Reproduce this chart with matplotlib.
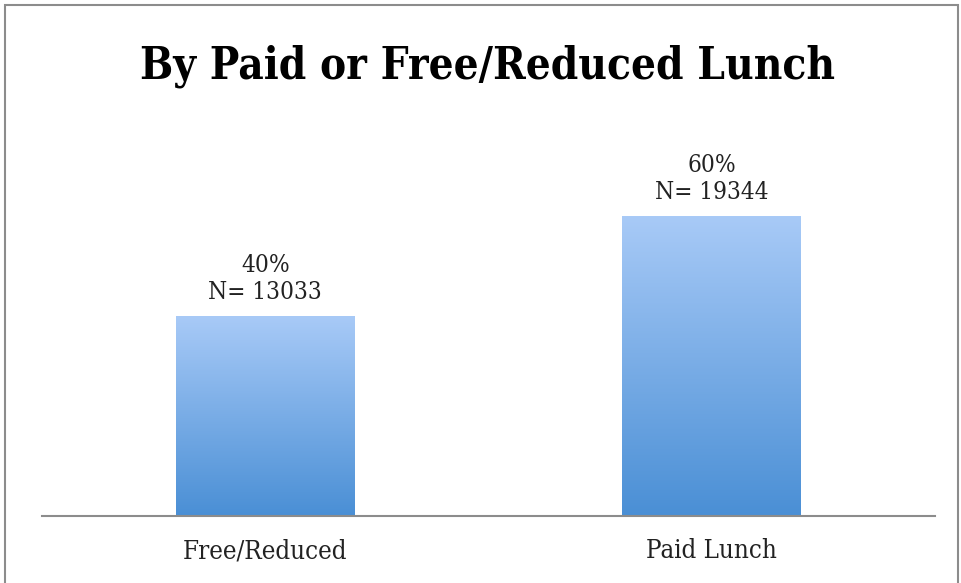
import matplotlib
matplotlib.use("Agg")
import matplotlib.pyplot as plt
import numpy as np
from matplotlib.patches import Rectangle

categories = ["Free/Reduced", "Paid Lunch"]
percents = [40, 60]
counts = [13033, 19344]

W, H = 961, 583
fig = plt.figure(figsize=(W / 100, H / 100), dpi=100)
ax = fig.add_axes([42 / W, (H - 516) / H, (935 - 42) / W, (516 - 116) / H])

bar_w = 0.40
top_c = np.array([168, 202, 247]) / 255
bot_c = np.array([74, 143, 213]) / 255
grad = np.linspace(0, 1, 256)[:, None, None]
img = top_c * (1 - grad) + bot_c * grad

bars = ax.bar(range(len(categories)), percents, width=bar_w, color="none")
for b in bars:
    x0 = b.get_x()
    h = b.get_height()
    im = ax.imshow(img, extent=[x0, x0 + bar_w, 0, h], aspect="auto", origin="upper", zorder=2)
    im.set_clip_path(b)

for i, (p, n) in enumerate(zip(percents, counts)):
    ax.text(i, p + 2.4, f"{p}%\nN= {n}", ha="center", va="bottom", fontsize=17.5,
            family="DejaVu Serif", fontstretch="condensed", color="#222222", linespacing=1.2)

ax.set_xlim(-0.5, 1.5)
ax.set_ylim(0, 80)
ax.set_yticks([])
ax.set_xticks(range(len(categories)))
ax.set_xticklabels(categories, fontsize=18.5, family="DejaVu Serif", fontstretch="condensed", color="#222222")
ax.tick_params(axis="x", length=0, pad=16)
for s in ["top", "left", "right"]:
    ax.spines[s].set_visible(False)
ax.spines["bottom"].set_color("#8c8c8c")
ax.spines["bottom"].set_linewidth(1.5)

fig.text(488 / W, 1 - 66 / H, "By Paid or Free/Reduced Lunch", ha="center", va="center",
         fontsize=31.5, fontweight="bold", family="DejaVu Serif", fontstretch="condensed")

fig.patches.append(Rectangle((5 / W, -0.05), (958 - 5) / W, 1.05 - 5 / H, transform=fig.transFigure,
                             fill=False, edgecolor="#8c8c8c", linewidth=1.5))

fig.savefig("out.png", dpi=100)
